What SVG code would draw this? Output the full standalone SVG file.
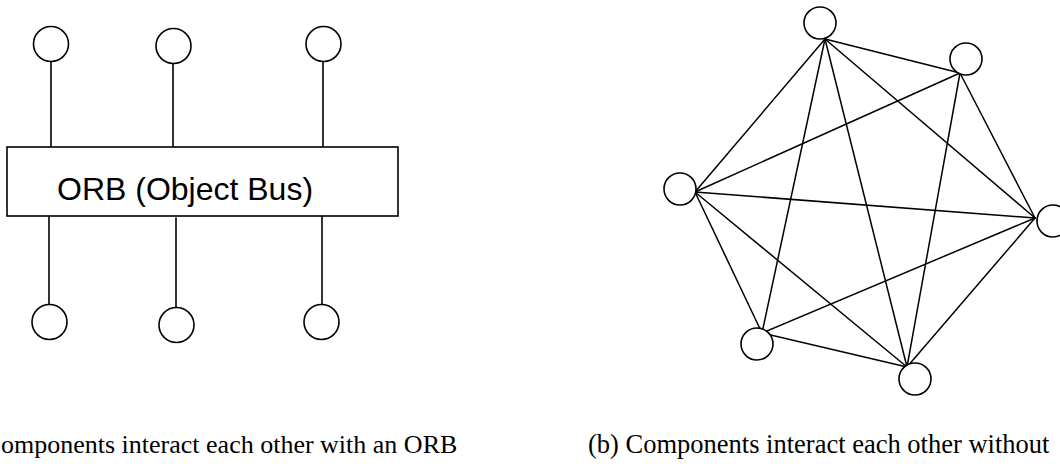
<svg xmlns="http://www.w3.org/2000/svg" width="1060" height="467" viewBox="0 0 1060 467">
  <style>
    .node { fill: #fff; stroke: #000; stroke-width: 1.6; }
    .wire { stroke: #000; stroke-width: 1.6; fill: none; stroke-linecap: round; }
    .mesh { stroke: #000; stroke-width: 1.5; fill: none; stroke-linecap: round; }
    .bus { fill: #fff; stroke: #000; stroke-width: 1.6; }
    .bus-label { font-family: "Liberation Sans", Arial, sans-serif; font-size: 32px; fill: #000; }
    .caption { font-family: "Liberation Serif", "Times New Roman", serif; font-size: 26.5px; fill: #000; }
  </style>

  <!-- (a) components attached to the object bus -->
  <g id="bus-links">
    <line class="wire" x1="51" y1="62" x2="51" y2="147"/>
    <line class="wire" x1="173" y1="64" x2="173" y2="147"/>
    <line class="wire" x1="323" y1="62" x2="323" y2="147"/>
    <line class="wire" x1="49" y1="216" x2="49" y2="304"/>
    <line class="wire" x1="176" y1="218" x2="176" y2="307"/>
    <line class="wire" x1="322" y1="216" x2="322" y2="304"/>
  </g>
  <g id="orb">
    <rect class="bus" x="7" y="147" width="391" height="69"/>
    <text class="bus-label" x="57" y="200">ORB (Object Bus)</text>
  </g>
  <g id="a-top-1"><circle class="node" cx="51" cy="44" r="17.5"/></g>
  <g id="a-top-2"><circle class="node" cx="173.5" cy="46" r="17.5"/></g>
  <g id="a-top-3"><circle class="node" cx="323.5" cy="44" r="17.5"/></g>
  <g id="a-bottom-1"><circle class="node" cx="49.5" cy="322" r="17.5"/></g>
  <g id="a-bottom-2"><circle class="node" cx="176.5" cy="325" r="17.5"/></g>
  <g id="a-bottom-3"><circle class="node" cx="321.5" cy="322" r="17.5"/></g>

  <!-- (b) point-to-point links between components -->
  <g id="mesh-links">
    <line class="mesh" x1="825" y1="39" x2="960" y2="73"/>
    <line class="mesh" x1="825" y1="39" x2="695" y2="192"/>
    <line class="mesh" x1="825" y1="39" x2="1035" y2="218"/>
    <line class="mesh" x1="825" y1="39" x2="762" y2="333"/>
    <line class="mesh" x1="825" y1="39" x2="907" y2="367"/>
    <line class="mesh" x1="960" y1="73" x2="695" y2="192"/>
    <line class="mesh" x1="960" y1="73" x2="1035" y2="218"/>
    <line class="mesh" x1="960" y1="73" x2="907" y2="367"/>
    <line class="mesh" x1="695" y1="192" x2="1035" y2="218"/>
    <line class="mesh" x1="695" y1="192" x2="762" y2="333"/>
    <line class="mesh" x1="695" y1="192" x2="907" y2="367"/>
    <line class="mesh" x1="1035" y1="218" x2="762" y2="333"/>
    <line class="mesh" x1="1035" y1="218" x2="907" y2="367"/>
    <line class="mesh" x1="762" y1="333" x2="907" y2="367"/>
  </g>
  <g id="b-top"><circle class="node" cx="820" cy="23" r="16"/></g>
  <g id="b-upper-right"><circle class="node" cx="966" cy="59" r="16"/></g>
  <g id="b-left"><circle class="node" cx="680" cy="189" r="16"/></g>
  <g id="b-right"><circle class="node" cx="1053" cy="221" r="16"/></g>
  <g id="b-lower-left"><circle class="node" cx="757" cy="344" r="16"/></g>
  <g id="b-bottom"><circle class="node" cx="915" cy="379" r="16"/></g>

  <!-- captions -->
  <text class="caption" x="1" y="453" style="font-size:26px">omponents interact each other with an ORB</text>
  <text class="caption" x="588" y="453">(b) Components interact each other without</text>
</svg>
